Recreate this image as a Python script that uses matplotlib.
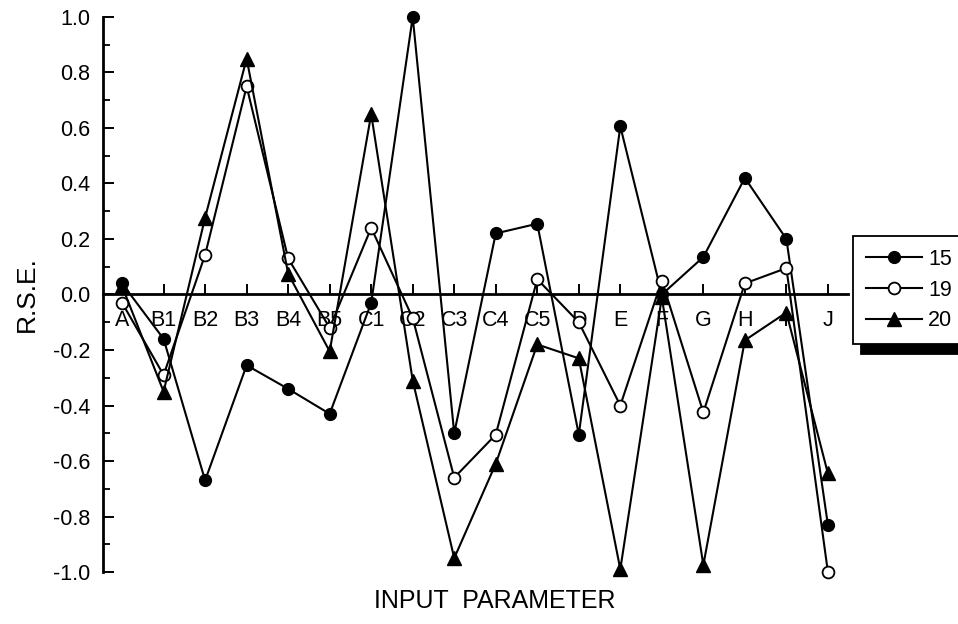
import matplotlib
matplotlib.use('Agg')
import matplotlib.pyplot as plt
from matplotlib.ticker import MultipleLocator

plt.rcParams['font.family'] = ['Liberation Sans', 'DejaVu Sans']

params = ['A', 'B1', 'B2', 'B3', 'B4', 'B5', 'C1', 'C2', 'C3', 'C4',
          'C5', 'D', 'E', 'F', 'G', 'H', 'I', 'J']

# R.S.E. values
rse_15 = [0.04, -0.16, -0.67, -0.255, -0.34, -0.43, -0.03, 1.0, -0.50, 0.22,
          0.255, -0.505, 0.606, 0.0, 0.135, 0.42, 0.20, -0.83]
rse_19 = [-0.03, -0.29, 0.143, 0.75, 0.13, -0.12, 0.24, -0.085, -0.66, -0.505,
          0.055, -0.10, -0.40, 0.05, -0.425, 0.04, 0.095, -1.0]
rse_20 = [0.03, -0.35, 0.277, 0.85, 0.075, -0.205, 0.65, -0.31, -0.95, -0.61,
          -0.18, -0.23, -0.99, -0.01, -0.975, -0.165, -0.065, -0.645]

x = list(range(len(params)))

fig = plt.figure(figsize=(9.58, 6.24), dpi=100)
ax = fig.add_axes([0.1075, 0.0833, 0.7775, 0.8895])

ax.plot(x, rse_15, color='black', lw=1.5, marker='o', ms=8.5,
        mfc='black', mec='black', label='15', clip_on=False, zorder=3)
ax.plot(x, rse_19, color='black', lw=1.5, marker='o', ms=8.5,
        mfc='white', mec='black', mew=1.3, label='19', clip_on=False, zorder=3)
ax.plot(x, rse_20, color='black', lw=1.5, marker='^', ms=9.5,
        mfc='black', mec='black', label='20', clip_on=False, zorder=3)

ax.set_xlim(-0.46, 17.48)
ax.set_ylim(-1.0, 1.0)

# axis at zero, ticks pointing up
ax.spines['top'].set_visible(False)
ax.spines['right'].set_visible(False)
ax.spines['bottom'].set_position(('data', 0))
ax.spines['bottom'].set_linewidth(2)
ax.spines['left'].set_linewidth(2)

ax.set_xticks(x)
ax.set_xticklabels(params)
ax.tick_params(axis='x', direction='in', length=7, width=1.4, pad=11,
               labelsize=15.5)
ax.yaxis.set_major_locator(MultipleLocator(0.2))
ax.yaxis.set_minor_locator(MultipleLocator(0.1))
ax.yaxis.set_major_formatter(plt.FuncFormatter(lambda v, p: f'{v:.1f}'))
ax.tick_params(axis='y', which='major', direction='in', length=8, width=1.4,
               pad=9, labelsize=15.5)
ax.tick_params(axis='y', which='minor', direction='in', length=5, width=1.3)

fig.text(0.028, 0.528, 'R.S.E.', rotation=90, fontsize=19,
         ha='center', va='center')
fig.text(0.516, 0.037, 'INPUT  PARAMETER', fontsize=18,
         ha='center', va='center')

leg = ax.legend(loc='center left', bbox_to_anchor=(0.89, 0.535),
                bbox_transform=fig.transFigure, fontsize=15.5, frameon=True,
                fancybox=False, edgecolor='black', handlelength=2.6,
                handletextpad=0.3, borderpad=0.6, labelspacing=0.45,
                borderaxespad=0,
                shadow={'color': 'black', 'alpha': 1, 'ox': 6, 'oy': -7})
leg.get_frame().set_linewidth(1.3)

fig.savefig('out.png', dpi=100)
